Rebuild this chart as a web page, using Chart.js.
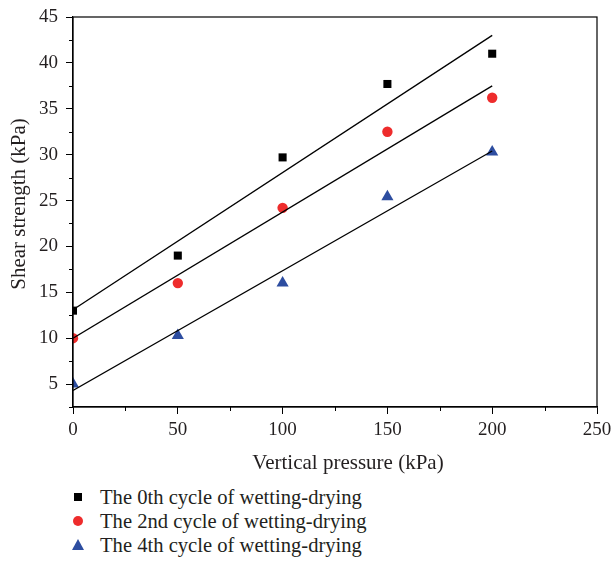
<!DOCTYPE html>
<html>
<head>
<meta charset="utf-8">
<script src="https://cdn.jsdelivr.net/npm/chart.js@4.4.0/dist/chart.umd.min.js"></script>
<style>
  html, body { margin: 0; padding: 0; background: #fff; }
  #wrap { position: relative; width: 611px; height: 573px; }
  #box { position: absolute; left: 0; top: 0; width: 611px; height: 480px; }
  #legend { position: absolute; left: 60px; top: 485px; font-family: "Liberation Serif", serif; font-size: 20.6px; color: #231f20; }
  .row { height: 24px; line-height: 24px; display: flex; align-items: center; }
  .mk { width: 26px; height: 24px; position: relative; margin-left: 4px; }
  .sq { position: absolute; left: 10px; top: 8px; width: 8px; height: 8px; background: #000; }
  .ci { position: absolute; left: 9px; top: 7px; width: 10px; height: 10px; border-radius: 50%; background: #ee2c2c; }
  .tr { position: absolute; left: 8px; top: 6px; width: 0; height: 0; border-left: 6px solid transparent; border-right: 6px solid transparent; border-bottom: 11px solid #2d4da0; }
  .lab { margin-left: 10px; }
</style>
</head>
<body>
<div id="wrap">
  <div id="box"><canvas id="c"></canvas></div>
  <div id="legend"></div>
</div>
<script>
// Data
const pressures = [0, 50, 100, 150, 200];
const cycle0 = [13.0, 19.0, 29.7, 37.7, 41.0];
const cycle2 = [10.0, 16.0, 24.2, 32.5, 36.2];
const cycle4 = [5.0, 10.3, 16.0, 25.4, 30.3];
// fitted lines: end values read at x = 0 and x = 200
const fitX = [0, 200];
const fit0 = [13.1, 43.0];
const fit2 = [10.0, 37.5];
const fit4 = [4.3, 30.4];
const seriesNames = ["The 0th cycle of wetting-drying", "The 2nd cycle of wetting-drying", "The 4th cycle of wetting-drying"];
const xTitle = 'Vertical pressure (kPa)';
const yTitle = 'Shear strength (kPa)';
const xTicks = [0, 50, 100, 150, 200, 250];
const xMinor = [25, 75, 125, 175, 225];
const yTicks = [5, 10, 15, 20, 25, 30, 35, 40, 45];
const yMinor = [2.5, 7.5, 12.5, 17.5, 22.5, 27.5, 32.5, 37.5, 42.5];

const colors = ["#000000", "#ee2c2c", "#2d4da0"];
const toPts = (xs, ys) => xs.map((x, i) => ({x: x, y: ys[i]}));

const FONT = "Liberation Serif";
const TXT = '#231f20';

const frame = {
  id: 'frame',
  afterDraw(chart) {
    const ctx = chart.ctx, a = chart.chartArea;
    ctx.save();
    ctx.strokeStyle = '#000';
    ctx.lineWidth = 1.2;
    ctx.strokeRect(a.left, a.top, a.right - a.left, a.bottom - a.top);
    ctx.lineWidth = 1;
    const xs = chart.scales.x, ys = chart.scales.y;
    ctx.beginPath();
    xMinor.forEach(v => { const p = Math.round(xs.getPixelForValue(v)) + 0.5; ctx.moveTo(p, a.bottom); ctx.lineTo(p, a.bottom + 4); });
    yMinor.forEach(v => { const p = Math.round(ys.getPixelForValue(v)) + 0.5; ctx.moveTo(a.left, p); ctx.lineTo(a.left - 4, p); });
    ctx.stroke();
    // axis titles
    ctx.fillStyle = TXT;
    ctx.font = '21px "' + FONT + '"';
    ctx.textAlign = 'center';
    ctx.textBaseline = 'middle';
    ctx.fillText(xTitle, (a.left + a.right) / 2 + 13, a.bottom + 56);
    ctx.translate(19, (a.top + a.bottom) / 2 - 8);
    ctx.rotate(-Math.PI / 2);
    ctx.fillText(yTitle, 0, 0);
    ctx.restore();
  }
};

new Chart(document.getElementById('c'), {
  type: 'scatter',
  data: {
    datasets: [
      {label: 'fit0', type: 'line', data: toPts(fitX, fit0), borderColor: '#000', borderWidth: 1.3, pointRadius: 0, fill: false},
      {label: 'fit2', type: 'line', data: toPts(fitX, fit2), borderColor: '#000', borderWidth: 1.3, pointRadius: 0, fill: false},
      {label: 'fit4', type: 'line', data: toPts(fitX, fit4), borderColor: '#000', borderWidth: 1.3, pointRadius: 0, fill: false},
      {label: seriesNames[0], data: toPts(pressures, cycle0), pointStyle: 'rect', pointRadius: 5.7, backgroundColor: colors[0], borderColor: colors[0], borderWidth: 0},
      {label: seriesNames[1], data: toPts(pressures, cycle2), pointStyle: 'circle', pointRadius: 5.2, backgroundColor: colors[1], borderColor: colors[1], borderWidth: 0},
      {label: seriesNames[2], data: toPts(pressures, cycle4), pointStyle: 'triangle', pointRadius: 7, backgroundColor: colors[2], borderColor: colors[2], borderWidth: 0}
    ]
  },
  options: {
    responsive: true,
    maintainAspectRatio: false,
    animation: false,
    layout: {padding: {left: 0, right: 14, top: 17, bottom: 0}},
    plugins: {legend: {display: false}, tooltip: {enabled: false}},
    scales: {
      x: {
        type: 'linear', min: 0, max: 250,
        afterBuildTicks: s => { s.ticks = xTicks.map(v => ({value: v})); },
        afterFit: s => { s.height = 73; s.paddingLeft = 0; s.paddingRight = 0; },
        grid: {display: true, drawOnChartArea: false, drawTicks: true, tickLength: 7, color: '#000', tickWidth: 1},
        border: {display: true, color: '#000', width: 1.2},
        ticks: {color: TXT, font: {family: FONT, size: 19}, padding: 5, maxRotation: 0},
        title: {display: false}
      },
      y: {
        type: 'linear', min: 2.5, max: 45,
        afterBuildTicks: s => { s.ticks = yTicks.map(v => ({value: v})); },
        afterFit: s => { s.width = 73; s.paddingTop = 0; s.paddingBottom = 0; },
        grid: {display: true, drawOnChartArea: false, drawTicks: true, tickLength: 7, color: '#000', tickWidth: 1},
        border: {display: true, color: '#000', width: 1.2},
        ticks: {color: TXT, font: {family: FONT, size: 19}, padding: 8},
        title: {display: false}
      }
    }
  },
  plugins: [frame]
});

const leg = document.getElementById('legend');
const cls = ['sq', 'ci', 'tr'];
seriesNames.forEach((n, i) => {
  const r = document.createElement('div'); r.className = 'row';
  const m = document.createElement('div'); m.className = 'mk';
  const s = document.createElement('div'); s.className = cls[i]; m.appendChild(s);
  const t = document.createElement('span'); t.className = 'lab'; t.textContent = n;
  r.appendChild(m); r.appendChild(t); leg.appendChild(r);
});
</script>
</body>
</html>
